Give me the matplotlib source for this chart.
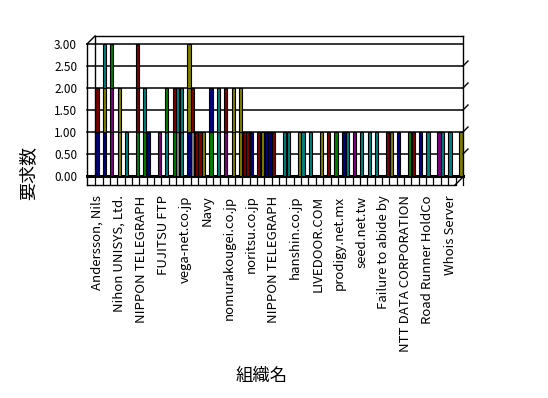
import matplotlib
matplotlib.use("Agg")
import matplotlib.pyplot as plt
from matplotlib.lines import Line2D
import matplotlib.transforms as mtransforms

plt.rcParams['font.family'] = ['Noto Sans CJK JP', 'DejaVu Sans']

# ---- data ----
n_slots = 100
label_names = ["Andersson, Nils", "Nihon UNISYS, Ltd.", "NIPPON TELEGRAPH", "FUJITSU FTP",
               "vega-net.co.jp", "Navy", "nomurakougei.co.jp", "noritsu.co.jp",
               "NIPPON TELEGRAPH", "hanshin.co.jp", "LIVEDOOR.COM", "prodigy.net.mx",
               "seed.net.tw", "Failure to abide by", "NTT DATA CORPORATION",
               "Road Runner HoldCo", "Whois Server"]
label_every = 6
# category index of each bar, and its stacked segments (bottom -> top), one request each
bar_slots = [0, 2, 4, 6, 8, 11, 13, 14, 17, 19, 21, 22, 23, 25, 26, 27, 28, 29, 31, 33,
             35, 37, 39, 40, 41, 42, 44, 45, 46, 47, 48, 51, 52, 55, 56, 58, 61, 63, 65,
             67, 68, 70, 72, 74, 76, 79, 80, 82, 85, 86, 88, 90, 93, 94, 96, 99]
bar_stacks = ["BR", "BOT", "PPG", "OO", "T", "GRR", "GT", "B", "P", "TG", "GR", "YT", "TT",
              "BOO", "YR", "R", "R", "O", "GB", "TT", "PR", "OO", "OO", "R", "R", "B", "R",
              "O", "B", "B", "R", "T", "T", "O", "T", "T", "O", "R", "G", "B", "T", "P",
              "T", "T", "T", "R", "O", "B", "G", "R", "B", "T", "P", "T", "T", "O"]
seg_value = 1.0
palette = {"B": "#000080", "R": "#800000", "O": "#808000", "T": "#008080",
           "G": "#008000", "P": "#800080", "Y": "#808080"}
yticks = [0.0, 0.5, 1.0, 1.5, 2.0, 2.5, 3.0]

W, H = 548, 398
fig = plt.figure(figsize=(W / 100, H / 100), dpi=100)
fig.patch.set_facecolor("white")

def fx(x):
    return x / W

def fy(y):
    return 1 - y / H

# back wall data area (pixels)
x0, x1, ytop, ybot = 95.2, 462.9, 44, 176
ax = fig.add_axes([fx(x0), fy(ybot), fx(x1) - fx(x0), fy(ytop) - fy(ybot)])
ax.set_facecolor("none")
ax.set_xlim(-0.5, n_slots - 0.5)
ax.set_ylim(0, 3)
for s in ax.spines.values():
    s.set_visible(False)

# gridlines (extend to left wall front edge)
left_ext = -(x0 - 87) / (x1 - x0)
ytrans = ax.get_yaxis_transform()
for v in yticks:
    ax.add_line(Line2D([left_ext, 1.0], [v, v], transform=ytrans, color="black",
                       lw=1.1 if v > 0 else 2.2, clip_on=False, zorder=0.5))

# bars
max_levels = max(len(s) for s in bar_stacks)
for lvl in range(max_levels):
    xs = [x for x, s in zip(bar_slots, bar_stacks) if len(s) > lvl]
    cs = [palette[s[lvl]] for s in bar_stacks if len(s) > lvl]
    ax.bar(xs, [seg_value] * len(xs), bottom=lvl * seg_value, width=0.85, color=cs,
           edgecolor="black", linewidth=0.8, zorder=2)

# ticks
ax.set_yticks(yticks)
ax.set_yticklabels([f"{v:.2f}" for v in yticks], fontsize=8.5)
ax.tick_params(axis="y", length=0, pad=13)
ax.set_xticks(list(range(0, n_slots, label_every)))
ax.set_xticklabels(label_names, rotation=90, fontsize=9.5, va="top", ha="center")
ax.tick_params(axis="x", length=0, pad=14)

# floor tick lines
btrans = mtransforms.blended_transform_factory(ax.transData, ax.transAxes)
floor_d = (185 - ybot) / (ybot - ytop)
for xt in range(0, n_slots + 1, 2):
    ax.add_line(Line2D([xt - 0.5, xt - 0.5], [0, -floor_d], transform=btrans,
                       color="black", lw=0.9, clip_on=False))

# 3D frame lines in pixel coords
def pline(xs, ys, lw=1.0):
    fig.add_artist(Line2D([fx(x) for x in xs], [fy(y) for y in ys], color="black", lw=lw,
                          transform=fig.transFigure))

pline([87, 87], [44, 185])          # left front edge
pline([87, 95], [44, 36])           # left top diagonal
pline([95, 463], [36, 36])          # back wall top
pline([95, 95], [36, 176])          # back wall left edge
pline([463, 463], [36, 176])        # back wall right edge
pline([87, 455], [185, 185])        # floor front edge
pline([455, 463], [185, 177])       # floor right diagonal
for v in yticks[1:-1]:
    yy = ybot - v / 3 * (ybot - ytop)
    pline([463, 468], [yy, yy - 5])

fig.text(fx(28), fy(173), "要求数", rotation=90, ha="center", va="center", fontsize=13)
fig.text(fx(262), fy(376), "組織名", ha="center", va="center", fontsize=12.5)

fig.savefig("out.png", dpi=100)
